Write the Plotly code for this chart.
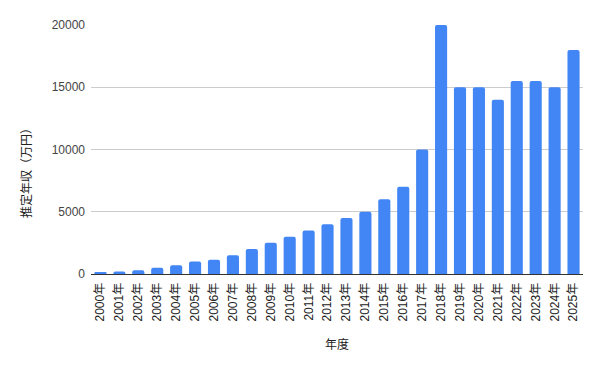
import plotly.graph_objects as go

years = [f"{y}年" for y in range(2000, 2026)]
income = [100, 200, 300, 500, 700, 1000, 1150, 1500, 2000, 2500, 3000, 3500, 4000,
          4500, 5000, 6000, 7000, 10000, 20000, 15000, 15000, 14000, 15500, 15500,
          15000, 18000]
y_ticks = [0, 5000, 10000, 15000, 20000]
y_title = "推定年収（万円）"
x_title = "年度"

font_family = "Liberation Sans, Arial, Noto Sans CJK JP, sans-serif"

fig = go.Figure(go.Bar(
    x=years, y=income,
    marker=dict(color="#4285F4", line=dict(width=0), cornerradius=2),
))

fig.update_layout(
    width=601, height=371,
    margin=dict(l=91, r=18, t=25, b=97),
    plot_bgcolor="white", paper_bgcolor="white",
    bargap=0.36,
    showlegend=False,
    font=dict(family=font_family, size=12, color="#222222"),
)
fig.update_xaxes(
    automargin=False,
    tickangle=-90,
    tickfont=dict(size=12, color="#222222"),
    showgrid=False,
    showline=True, linecolor="#333333", linewidth=1,
    ticks="", ticklen=0, ticklabelstandoff=3,
    title=dict(text=x_title, font=dict(size=12, color="#222222"), standoff=20),
)
fig.update_yaxes(
    automargin=False,
    range=[0, 20000],
    tickvals=y_ticks,
    ticktext=[str(v) for v in y_ticks],
    tickfont=dict(size=12, color="#444444"),
    showgrid=True, gridcolor="#cccccc", gridwidth=1,
    zeroline=False,
    ticks="", ticklabelstandoff=5,
)
fig.add_annotation(
    text=y_title, textangle=-90,
    xref="paper", yref="paper", x=-0.132, y=0.418,
    xanchor="center", yanchor="middle", showarrow=False,
    font=dict(size=12, color="#222222", family="Noto Sans CJK JP, sans-serif"),
)

fig.write_html("out.html", config={"displayModeBar": False},
               post_script="document.body.style.margin='0';")
